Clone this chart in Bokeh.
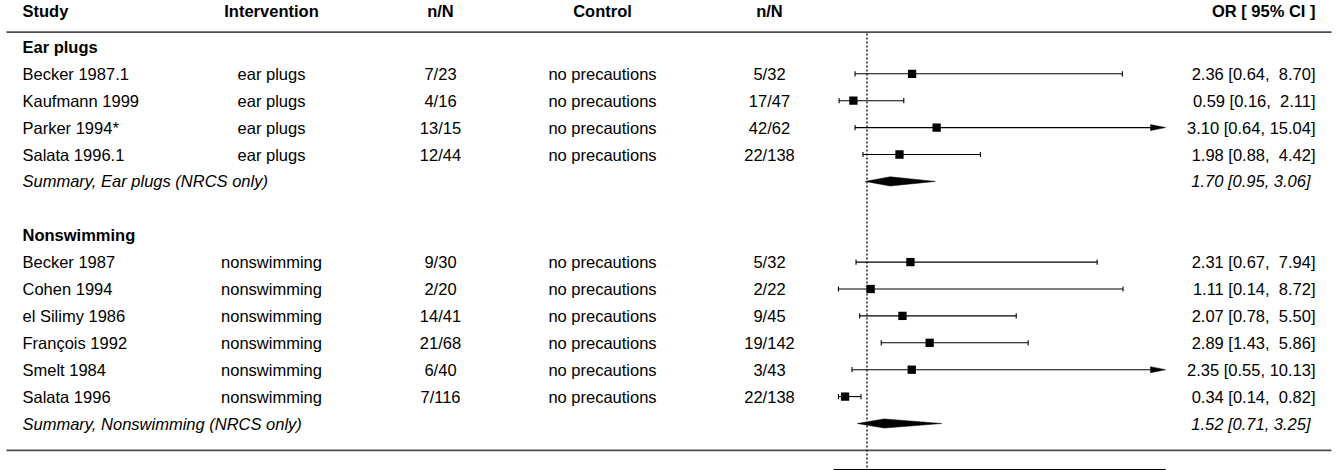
from bokeh.plotting import figure
from bokeh.models import Range1d, ColumnDataSource
from bokeh.core.properties import value
from bokeh.embed import file_html
from bokeh.resources import INLINE

# ---------------- data ----------------
groups = ["Ear plugs", "Nonswimming"]
summary_labels = ["Summary, Ear plugs (NRCS only)", "Summary, Nonswimming (NRCS only)"]
summary_or = [1.70, 1.52]
summary_lo = [0.95, 0.71]
summary_hi = [3.06, 3.25]

studies = ["Becker 1987.1", "Kaufmann 1999", "Parker 1994*", "Salata 1996.1",
           "Becker 1987", "Cohen 1994", "el Silimy 1986", "François 1992", "Smelt 1984", "Salata 1996"]
intervention = ["ear plugs"] * 4 + ["nonswimming"] * 6
int_nN = ["7/23", "4/16", "13/15", "12/44", "9/30", "2/20", "14/41", "21/68", "6/40", "7/116"]
control = ["no precautions"] * 10
ctrl_nN = ["5/32", "17/47", "42/62", "22/138", "5/32", "2/22", "9/45", "19/142", "3/43", "22/138"]
odds = [2.36, 0.59, 3.10, 1.98, 2.31, 1.11, 2.07, 2.89, 2.35, 0.34]
ci_lo = [0.64, 0.16, 0.64, 0.88, 0.67, 0.14, 0.78, 1.43, 0.55, 0.14]
ci_hi = [8.70, 2.11, 15.04, 4.42, 7.94, 8.72, 5.50, 5.86, 10.13, 0.82]

headers = ["Study", "Intervention", "n/N", "Control", "n/N", "OR [ 95% CI ]"]
axis_ticks = [0, 1, 2, 5, 10]
ref_value = 1

# ---------------- layout ----------------
W, H = 1339, 470
X0_PX, X10_PX = 833.3, 1165.0
KX = (X10_PX - X0_PX) / 10.0
ROW_PX = 26.9
ROW14_PX = 73.3
x_start = -X0_PX / KX
x_end = (W - X0_PX) / KX
y_top = 14 + ROW14_PX / ROW_PX
y_bot = 14 - (H - ROW14_PX) / ROW_PX


def px2x(px):
    return x_start + px / KX


def fmt_ci(o, l, h, pad_study=True):
    hs = f"{h:.2f}"
    pad = "\u00a0" if (len(hs) == 4 and pad_study) else ""
    return f"{o:.2f} [{l:.2f},\u00a0{pad}{hs}]"


p = figure(width=W, height=H, output_backend="svg", toolbar_location=None,
           x_range=Range1d(x_start, x_end), y_range=Range1d(y_bot, y_top),
           min_border=0, x_axis_location=None, y_axis_location=None)
p.grid.visible = False
p.outline_line_color = None
p.background_fill_color = "white"
p.border_fill_color = "white"

FONT = value("Liberation Sans")
FS = "16.5px"

COL_STUDY = px2x(22)
COL_INT = px2x(271)
COL_N1 = px2x(440)
COL_CTRL = px2x(602)
COL_N2 = px2x(769)
COL_OR = px2x(1315)
COL_OR_IT = px2x(1310)

# row positions
study_y = [14, 13, 12, 11, 7, 6, 5, 4, 3, 2]
group_y = [15, 8]
summary_y = [10, 1]
header_y = 16.32

# header
hx = [COL_STUDY, COL_INT, COL_N1, COL_CTRL, COL_N2, COL_OR]
halign = ["left", "center", "center", "center", "center", "right"]
for t, x, a in zip(headers, hx, halign):
    p.text(x=[x], y=[header_y], text=[t], text_font=FONT, text_font_size=FS,
           text_font_style="bold", text_align=a, text_baseline="middle", text_color="black")

# horizontal rules
p.segment(x0=[px2x(6), px2x(6)], y0=[15.55, 0], x1=[px2x(1331), px2x(1331)], y1=[15.55, 0],
          line_color="#4d4d4d", line_width=1.8)

# reference line
p.segment(x0=[ref_value], y0=[15.5], x1=[ref_value], y1=[y_bot], line_color="#222222",
          line_width=1.5, line_dash="2 2")

# group headings
p.text(x=[COL_STUDY] * 2, y=group_y, text=groups, text_font=FONT, text_font_size=FS,
       text_font_style="bold", text_align="left", text_baseline="middle", text_color="black")

# study columns
src = ColumnDataSource(dict(y=study_y, s=studies, i=intervention, n1=int_nN, c=control, n2=ctrl_nN,
                            ors=[fmt_ci(o, l, h) for o, l, h in zip(odds, ci_lo, ci_hi)]))
for col, x, a in [("s", COL_STUDY, "left"), ("i", COL_INT, "center"), ("n1", COL_N1, "center"),
                  ("c", COL_CTRL, "center"), ("n2", COL_N2, "center"), ("ors", COL_OR, "right")]:
    p.text(x=x, y="y", text=col, source=src, text_font=FONT, text_font_size=FS,
           text_align=a, text_baseline="middle", text_color="black")

# summary text
p.text(x=[COL_STUDY] * 2, y=summary_y, text=summary_labels, text_font=FONT, text_font_size=FS,
       text_font_style="italic", text_align="left", text_baseline="middle", text_color="black")
p.text(x=[COL_OR_IT] * 2, y=summary_y,
       text=[fmt_ci(o, l, h, pad_study=False) for o, l, h in zip(summary_or, summary_lo, summary_hi)],
       text_font=FONT, text_font_size=FS, text_font_style="italic", text_align="right",
       text_baseline="middle", text_color="black")

# CIs
XMIN, XMAX = 0, 10
arrow_len = 15 / KX
tick_h = 2.6 / ROW_PX
arrow_h = 3.0 / ROW_PX
for y, o, l, h in zip(study_y, odds, ci_lo, ci_hi):
    lo_c = max(l, XMIN)
    hi_c = min(h, XMAX)
    right_end = hi_c - arrow_len if h > XMAX else hi_c
    p.segment(x0=[lo_c], y0=[y], x1=[right_end], y1=[y], line_color="black", line_width=1.1)
    if l >= XMIN:
        p.segment(x0=[l], y0=[y - tick_h], x1=[l], y1=[y + tick_h], line_color="black", line_width=1.1)
    if h <= XMAX:
        p.segment(x0=[h], y0=[y - tick_h], x1=[h], y1=[y + tick_h], line_color="black", line_width=1.1)
    else:
        p.patch(x=[XMAX - arrow_len, XMAX, XMAX - arrow_len], y=[y - arrow_h, y, y + arrow_h],
                fill_color="black", line_color="black", line_width=0.5)

p.scatter(x=odds, y=study_y, marker="square", size=8.3, fill_color="black", line_color="black",
          line_width=0)

# summary diamonds
dh = 4.6 / ROW_PX
p.patches(xs=[[l, o, h, o] for o, l, h in zip(summary_or, summary_lo, summary_hi)],
          ys=[[y, y + dh, y, y - dh] for y in summary_y],
          fill_color="black", line_color="black", line_width=0.5)

# x axis (bottom, largely cropped)
ay = 14 - (469 - ROW14_PX) / ROW_PX
p.segment(x0=[axis_ticks[0]], y0=[ay], x1=[axis_ticks[-1]], y1=[ay], line_color="black", line_width=1)
p.segment(x0=axis_ticks, y0=[ay] * len(axis_ticks), x1=axis_ticks, y1=[ay - 0.3] * len(axis_ticks),
          line_color="black", line_width=1)

open("out.html", "w").write(file_html(p, INLINE))
